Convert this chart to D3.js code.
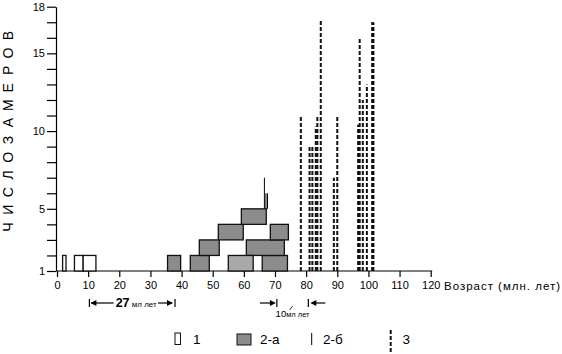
<!DOCTYPE html>
<html>
<head>
<meta charset="utf-8">
<script src="https://cdn.jsdelivr.net/npm/d3@7"></script>
<style>
  body { margin: 0; background: #fff; }
  svg { display: block; font-family: "Liberation Sans", Arial, sans-serif; }
</style>
</head>
<body>
<svg id="chart" width="562" height="354"></svg>
<script>
// ages in млн. лет, counts in число замеров
// bars: [start age, end age, row]  (a bar fills row .. row + 1)
const whiteBars = [[1.8, 2.9, 1], [5.6, 8.4, 1], [8.4, 12.5, 1]];
const grayBars = [
    [35.5, 39.7, 1], [42.8, 48.9, 1], [65.9, 74.0, 1],
    [45.7, 52.1, 2], [60.8, 73.0, 2],
    [51.8, 59.8, 3], [68.5, 74.3, 3],
    [59.2, 67.2, 4]
];
const lightBars = [[55.0, 63.0, 1]];
// thin solid lines (2-б): [age, from, to]
const thinLines = [[66.6, 5, 7], [67.1, 5, 6], [67.6, 5, 6]];
// dashed lines (3)
const dashedAges   = [78.3, 81.1, 82.0, 83.1, 83.6, 84.7, 88.9, 90.0, 96.7, 97.2, 98.2, 99.5, 101.2, 101.6];
const dashedCounts = [11,   9,    9,    10.3, 11,   17.1, 7,    11,   10.4, 16,   12,   13,   17,    17];

const xTicks = d3.range(0, 121, 10);
const yTicks = d3.range(1, 19);
const yLabels = [1, 5, 10, 15, 18];
const legendLabels = ['1', '2-а', '2-б', '3'];
const yTitle = 'ЧИСЛО ЗАМЕРОВ';
const xTitle = 'Возраст (млн. лет)';
const span27 = [10.4, 37.9];
const span10 = [70.6, 80.7];

const gray = '#8c8c8c';
const lightGray = '#a9a9a9';

let svg = d3.select('#chart');

let x = d3.scaleLinear().domain([0, 120]).range([57, 430.7]);
let y = d3.scaleLinear().domain([1, 18]).range([271, 6.7]);

// axes
let xAxis = svg.append('g')
    .attr('transform', `translate(0,${y(1)})`)
    .call(d3.axisBottom(x).tickValues(xTicks).tickSize(6).tickSizeOuter(0).tickPadding(4))
xAxis.selectAll('text').attr('font-size', 11).attr('fill', '#000')
xAxis.select('.domain').attr('d', `M${x(0)},0H${x(120) + 1.5}`)

let yAxis = svg.append('g')
    .attr('transform', `translate(${x(0) - 1},0)`)
    .call(d3.axisLeft(y).tickValues(yTicks).tickSize(9).tickSizeOuter(0).tickPadding(2)
        .tickFormat(d => yLabels.includes(d) ? d : ''))
yAxis.selectAll('text').attr('font-size', 11).attr('fill', '#000')

svg.selectAll('.domain, .tick line').attr('stroke', '#000').attr('stroke-width', 1.2)

// bars
function drawBars(data, fill) {
    svg.append('g').selectAll('rect')
        .data(data)
        .join('rect')
        .attr('x', d => x(d[0]))
        .attr('y', d => y(d[2] + 1))
        .attr('width', d => x(d[1]) - x(d[0]))
        .attr('height', d => y(d[2]) - y(d[2] + 1))
        .attr('fill', fill)
        .attr('stroke', '#111')
        .attr('stroke-width', 1.3)
}
drawBars(whiteBars, '#fff');
drawBars(grayBars, gray);
drawBars(lightBars, lightGray);

svg.append('g').selectAll('line')
    .data(thinLines)
    .join('line')
    .attr('x1', d => x(d[0]))
    .attr('x2', d => x(d[0]))
    .attr('y1', d => y(d[1]))
    .attr('y2', d => y(d[2]))
    .attr('stroke', '#000')
    .attr('stroke-width', 1)

svg.append('g').selectAll('line')
    .data(dashedAges)
    .join('line')
    .attr('x1', d => x(d))
    .attr('x2', d => x(d))
    .attr('y1', y(1))
    .attr('y2', (d, i) => y(dashedCounts[i]))
    .attr('stroke', '#111')
    .attr('stroke-width', 2)
    .attr('stroke-dasharray', '4,2')

// y title, letters spaced evenly, reading upwards
let letters = yTitle.split('');
let yt = svg.append('text')
    .attr('transform', 'translate(12.5,0) rotate(-90)')
    .attr('font-size', 14)
    .attr('text-anchor', 'middle')
let slot = 0;
letters.forEach(ch => {
    let pos = ch === ' ' ? slot - 0.5 : slot++;
    yt.append('tspan')
        .attr('x', -(227 - pos * 17.4))
        .text(ch)
})

// x title
svg.append('text')
    .attr('x', 444)
    .attr('y', 289.5)
    .attr('font-size', 11.5)
    .attr('textLength', 116)
    .text(xTitle)

// span annotations
function arrowHead(g, tipX, cy, dir) {
    g.append('path')
        .attr('d', `M${tipX},${cy}l${-dir * 6},-3v6z`)
        .attr('fill', '#000')
}
function bar(g, bx, cy) {
    g.append('line')
        .attr('x1', bx).attr('x2', bx)
        .attr('y1', cy - 4).attr('y2', cy + 4)
        .attr('stroke', '#000').attr('stroke-width', 1.2)
}

let ann = svg.append('g');
let cy27 = 303;
let t27 = ann.append('text')
    .attr('x', (x(span27[0]) + x(span27[1])) / 2 + 4)
    .attr('y', cy27 + 4)
    .attr('text-anchor', 'middle')
t27.append('tspan').attr('font-size', 12.5).attr('font-weight', 'bold').text('27')
t27.append('tspan').attr('font-size', 8).text(' мл лет')
let bb = t27.node().getBBox();
bar(ann, x(span27[0]), cy27);
bar(ann, x(span27[1]), cy27);
ann.append('line')
    .attr('x1', x(span27[0]) + 2).attr('x2', bb.x - 2)
    .attr('y1', cy27).attr('y2', cy27)
    .attr('stroke', '#000').attr('stroke-width', 1.2)
ann.append('line')
    .attr('x1', bb.x + bb.width + 1).attr('x2', x(span27[1]) - 3)
    .attr('y1', cy27).attr('y2', cy27)
    .attr('stroke', '#000').attr('stroke-width', 1.2)
arrowHead(ann, x(span27[0]) + 1, cy27, -1);
arrowHead(ann, x(span27[1]) - 2, cy27, 1);

let cy10 = 303;
bar(ann, x(span10[0]), cy10);
bar(ann, x(span10[1]), cy10);
ann.append('line')
    .attr('x1', x(span10[0]) - 17).attr('x2', x(span10[0]) - 4)
    .attr('y1', cy10).attr('y2', cy10)
    .attr('stroke', '#000').attr('stroke-width', 1.2)
ann.append('line')
    .attr('x1', x(span10[1]) + 4).attr('x2', x(span10[1]) + 17)
    .attr('y1', cy10).attr('y2', cy10)
    .attr('stroke', '#000').attr('stroke-width', 1.2)
arrowHead(ann, x(span10[0]) - 1, cy10, 1);
arrowHead(ann, x(span10[1]) + 2, cy10, -1);
let mid10 = (x(span10[0]) + x(span10[1])) / 2;
ann.append('line')
    .attr('x1', mid10 - 3).attr('x2', mid10)
    .attr('y1', cy10 + 7).attr('y2', cy10 + 3)
    .attr('stroke', '#000').attr('stroke-width', 0.8)
let t10 = ann.append('text')
    .attr('x', mid10)
    .attr('y', cy10 + 14)
    .attr('text-anchor', 'middle')
t10.append('tspan').attr('font-size', 9.5).text('10')
t10.append('tspan').attr('font-size', 7.5).text('мл лет')

// legend
let legendX = [175, 237, 311.7, 390.7];
let legend = svg.append('g');
legendLabels.forEach((label, i) => {
    let lx = legendX[i];
    if (i === 0) {
        legend.append('rect').attr('x', lx).attr('y', 333).attr('width', 5.5).attr('height', 11.5)
            .attr('fill', '#fff').attr('stroke', '#111').attr('stroke-width', 1)
    } else if (i === 1) {
        legend.append('rect').attr('x', lx).attr('y', 334).attr('width', 14).attr('height', 11)
            .attr('fill', gray).attr('stroke', '#111').attr('stroke-width', 1)
    } else if (i === 2) {
        legend.append('line').attr('x1', lx).attr('x2', lx).attr('y1', 333).attr('y2', 345)
            .attr('stroke', '#000').attr('stroke-width', 1)
    } else {
        legend.append('line').attr('x1', lx).attr('x2', lx).attr('y1', 330).attr('y2', 352)
            .attr('stroke', '#111').attr('stroke-width', 2).attr('stroke-dasharray', '4,2')
    }
    legend.append('text')
        .attr('x', [193, 260, 323, 402.5][i])
        .attr('y', 343.5)
        .attr('font-size', 13.5)
        .text(label)
})
</script>
</body>
</html>
